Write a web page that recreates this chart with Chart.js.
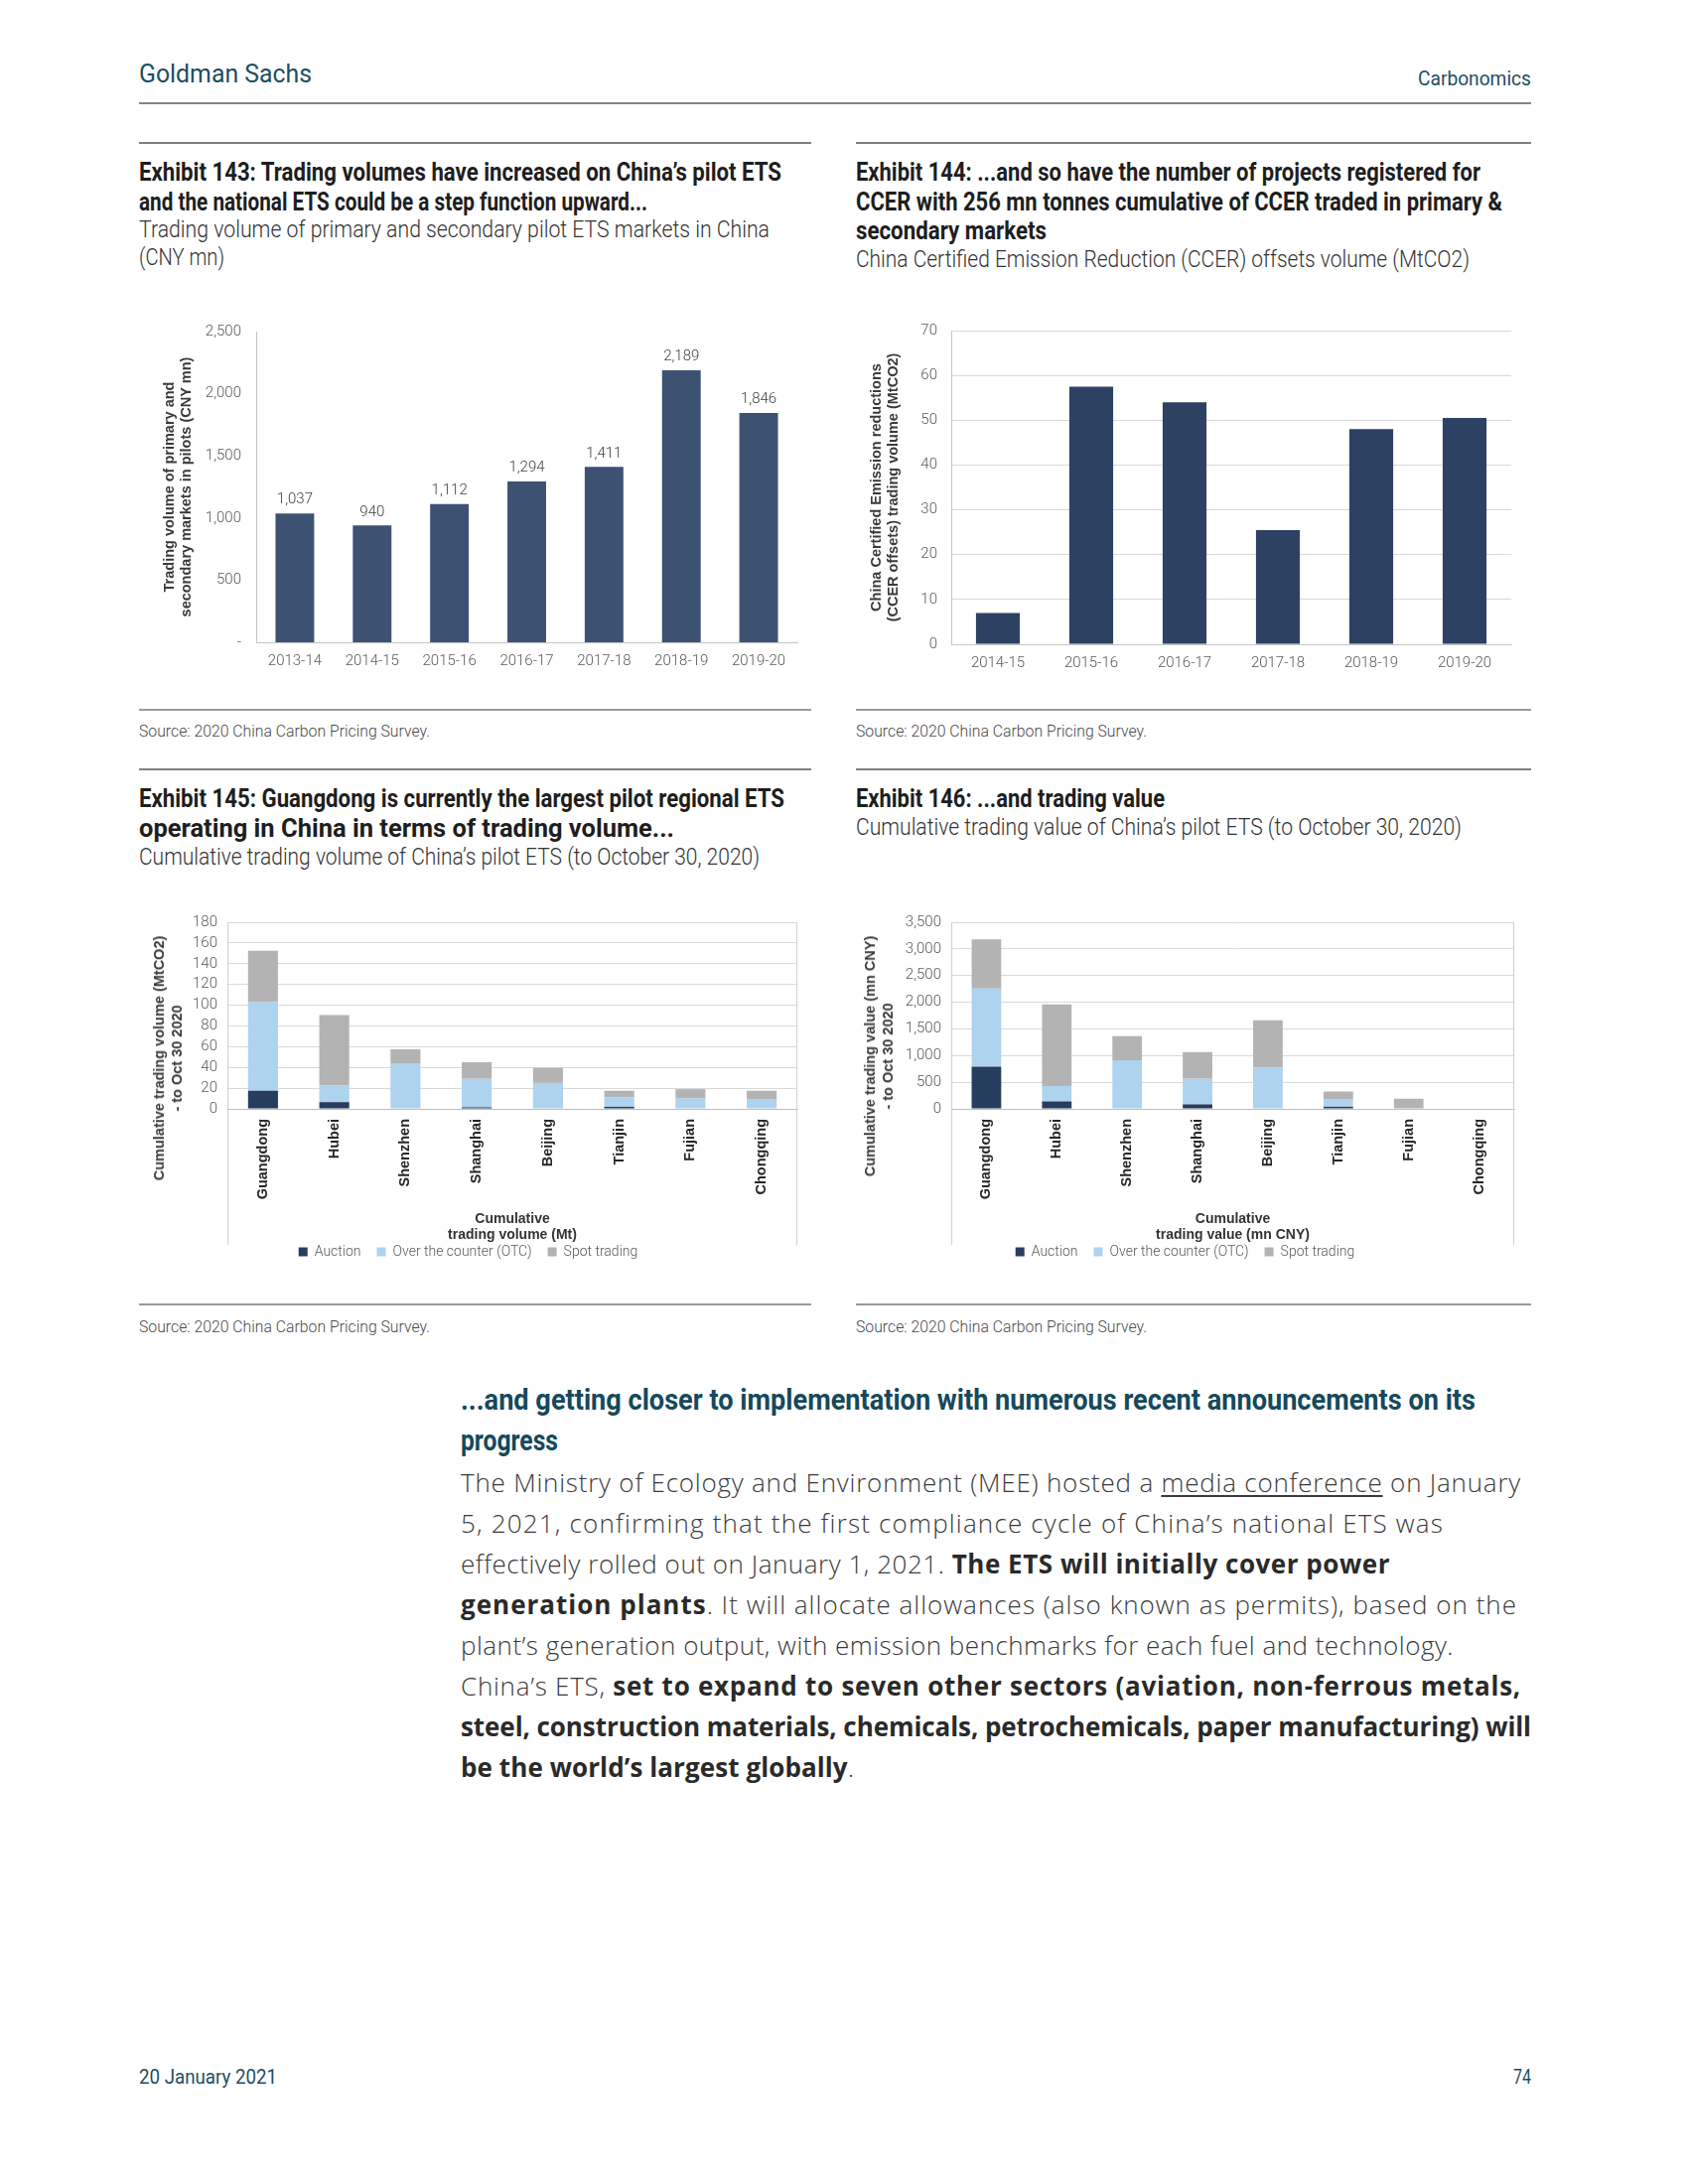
<!DOCTYPE html>
<html><head><meta charset="utf-8">
<script src="https://cdn.jsdelivr.net/npm/chart.js@4.4.1/dist/chart.umd.min.js"></script>
<style>
html,body{margin:0;padding:0;background:#fff;}
#page{position:relative;width:1700px;height:2200px;background:#fff;overflow:hidden;font-family:Roboto,"Liberation Sans",sans-serif;}
.rule{position:absolute;}
.t{position:absolute;white-space:nowrap;}
.sx,.fit{display:inline-block;white-space:nowrap;transform-origin:0 50%;}
.extitle{font-weight:bold;font-size:25px;line-height:30px;color:#1e1e1e;}
.exsub{font-size:23px;line-height:28px;color:#333;font-weight:300;}
.src{font-size:17px;line-height:20px;color:#4a4a4a;font-weight:300;}
canvas{position:absolute;}
.ytitle{position:absolute;transform:translate(-50%,-50%) rotate(-90deg);font-family:"Liberation Sans","DejaVu Sans",sans-serif;font-weight:bold;font-size:14.5px;line-height:18px;color:#3a3a3a;text-align:center;white-space:nowrap;}
.head{font-family:Roboto,sans-serif;font-weight:bold;font-size:30px;line-height:41px;color:#15495c;}
.body{font-family:"Open Sans","Lato",sans-serif;font-size:26px;line-height:41px;color:#3a3a3a;font-weight:300;}
.body b{color:#2a2a2a;font-weight:700;}
.body u{text-decoration:underline;text-underline-offset:3px;}
.hdr{color:#1f4e5f;font-weight:400;}
</style></head>
<body><div id="page">
<div class="t hdr" style="left:140px;top:59px;font-size:26px;line-height:30px;"><span class="sx" data-w="174">Goldman Sachs</span></div>
<div class="t hdr" style="left:1428px;top:67px;font-size:21px;line-height:24px;"><span class="sx" data-w="114">Carbonomics</span></div>
<div class="rule" style="left:140px;top:103px;width:1402px;height:2px;background:#858585;"></div>

<!-- Exhibit 143 -->
<div class="rule" style="left:140px;top:143px;width:677px;height:2px;background:#7f7f7f;"></div>
<div class="t extitle" style="left:140px;top:159px;"><span class="sx" data-w="647">Exhibit 143: Trading volumes have increased on China’s pilot ETS</span><br><span class="sx" data-w="512">and the national ETS could be a step function upward...</span></div>
<div class="t exsub" style="left:140px;top:218px;"><span class="sx" data-w="635">Trading volume of primary and secondary pilot ETS markets in China</span><br><span class="sx" data-w="86">(CNY mn)</span></div>
<canvas id="c143" width="680" height="380" style="left:140px;top:310px;"></canvas>
<div class="rule" style="left:140px;top:714px;width:677px;height:1.5px;background:#9a9a9a;"></div>
<div class="t src" style="left:140px;top:726px;"><span class="sx" data-w="293">Source: 2020 China Carbon Pricing Survey.</span></div>

<!-- Exhibit 144 -->
<div class="rule" style="left:862px;top:143px;width:680px;height:2px;background:#7f7f7f;"></div>
<div class="t extitle" style="left:862px;top:159px;line-height:29.5px;"><span class="sx" data-w="629">Exhibit 144: ...and so have the number of projects registered for</span><br><span class="sx" data-w="651">CCER with 256 mn tonnes cumulative of CCER traded in primary &amp;</span><br><span class="sx" data-w="192">secondary markets</span></div>
<div class="t exsub" style="left:862px;top:248px;"><span class="sx" data-w="618">China Certified Emission Reduction (CCER) offsets volume (MtCO2)</span></div>
<canvas id="c144" width="680" height="380" style="left:862px;top:310px;"></canvas>
<div class="rule" style="left:862px;top:714px;width:680px;height:1.5px;background:#9a9a9a;"></div>
<div class="t src" style="left:862px;top:726px;"><span class="sx" data-w="293">Source: 2020 China Carbon Pricing Survey.</span></div>

<!-- Exhibit 145 -->
<div class="rule" style="left:140px;top:774px;width:677px;height:2px;background:#7f7f7f;"></div>
<div class="t extitle" style="left:140px;top:790px;"><span class="sx" data-w="650">Exhibit 145: Guangdong is currently the largest pilot regional ETS</span><br><span class="sx" data-w="539">operating in China in terms of trading volume...</span></div>
<div class="t exsub" style="left:140px;top:850px;"><span class="sx" data-w="625">Cumulative trading volume of China’s pilot ETS (to October 30, 2020)</span></div>
<canvas id="c145" width="680" height="373" style="left:140px;top:905px;"></canvas>
<div class="ytitle" style="left:169px;top:1066px;">Cumulative trading volume (MtCO2)<br>- to Oct 30 2020</div>
<div class="rule" style="left:140px;top:1313px;width:677px;height:1.5px;background:#9a9a9a;"></div>
<div class="t src" style="left:140px;top:1326px;"><span class="sx" data-w="293">Source: 2020 China Carbon Pricing Survey.</span></div>

<!-- Exhibit 146 -->
<div class="rule" style="left:862px;top:774px;width:680px;height:2px;background:#7f7f7f;"></div>
<div class="t extitle" style="left:862px;top:790px;"><span class="sx" data-w="311">Exhibit 146: ...and trading value</span></div>
<div class="t exsub" style="left:862px;top:820px;"><span class="sx" data-w="610">Cumulative trading value of China’s pilot ETS (to October 30, 2020)</span></div>
<canvas id="c146" width="680" height="373" style="left:862px;top:905px;"></canvas>
<div class="ytitle" style="left:885px;top:1064px;">Cumulative trading value (mn CNY)<br>- to Oct 30 2020</div>
<div class="rule" style="left:862px;top:1313px;width:680px;height:1.5px;background:#9a9a9a;"></div>
<div class="t src" style="left:862px;top:1326px;"><span class="sx" data-w="293">Source: 2020 China Carbon Pricing Survey.</span></div>

<!-- Text section -->
<div class="t head" style="left:464px;top:1389px;"><span class="sx" data-w="1022">...and getting closer to implementation with numerous recent announcements on its</span><br><span class="sx" data-w="98">progress</span></div>
<div class="t body" style="left:464px;top:1473px;">
<span class="fit" data-w="1068">The Ministry of Ecology and Environment (MEE) hosted a <u>media conference</u> on January</span><br>
<span class="fit" data-w="990">5, 2021, confirming that the first compliance cycle of China’s national ETS was</span><br>
<span class="fit" data-w="936">effectively rolled out on January 1, 2021. <b>The ETS will initially cover power</b></span><br>
<span class="fit" data-w="1064"><b>generation plants</b>. It will allocate allowances (also known as permits), based on the</span><br>
<span class="fit" data-w="1000">plant’s generation output, with emission benchmarks for each fuel and technology.</span><br>
<span class="fit" data-w="1068">China’s ETS, <b>set to expand to seven other sectors (aviation, non-ferrous metals,</b></span><br>
<span class="fit" data-w="1078"><b>steel, construction materials, chemicals, petrochemicals, paper manufacturing) will</b></span><br>
<span class="fit" data-w="396"><b>be the world’s largest globally</b>.</span>
</div>

<div class="t hdr" style="left:140px;top:2080px;font-size:20px;line-height:24px;"><span class="sx" data-w="139">20 January 2021</span></div>
<div class="t hdr" style="left:1524px;top:2080px;font-size:20px;line-height:24px;"><span class="sx" data-w="18">74</span></div>
</div>

<script>
// ---------- Data ----------
const cats143 = ['2013-14','2014-15','2015-16','2016-17','2017-18','2018-19','2019-20'];
const vals143 = [1037, 940, 1112, 1294, 1411, 2189, 1846];

const cats144 = ['2014-15','2015-16','2016-17','2017-18','2018-19','2019-20'];
const vals144 = [7, 57.5, 54, 25.5, 48, 50.5];

const regions = ['Guangdong','Hubei','Shenzhen','Shanghai','Beijing','Tianjin','Fujian','Chongqing'];
const seriesNames = ['Auction','Over the counter (OTC)','Spot trading'];
const volAuction = [17.5, 6.5, 0, 1.5, 0, 2, 0, 0];
const volOTC     = [85.5, 16, 44, 27.5, 25, 9, 10, 9];
const volSpot    = [49.5, 68, 13.5, 16, 14.5, 6.5, 9, 8.5];

const valAuction = [790, 140, 0, 85, 0, 40, 0, 0];
const valOTC     = [1465, 290, 910, 480, 775, 145, 0, 0];
const valSpot    = [925, 1530, 455, 500, 885, 140, 190, 0];

const ticks143 = [0, 500, 1000, 1500, 2000, 2500];

// ---------- Styling ----------
const FN = 'Roboto,"Liberation Sans",sans-serif';
const FB = '"Liberation Sans","DejaVu Sans",sans-serif';
Chart.defaults.font.family = FN;
Chart.defaults.font.weight = '300';
Chart.defaults.color = '#595959';
Chart.defaults.animation = false;
const C_AUC = '#273d5e', C_OTC = '#add3ee', C_SPOT = '#b3b3b3';
const fmt = v => Number(v).toLocaleString('en-US');

const valueLabels = {
  id: 'valueLabels',
  afterDatasetsDraw(chart) {
    const ctx = chart.ctx, meta = chart.getDatasetMeta(0), ds = chart.data.datasets[0];
    ctx.save();
    ctx.font = '300 15px ' + FN; ctx.fillStyle = '#404040';
    ctx.textAlign = 'center'; ctx.textBaseline = 'bottom';
    meta.data.forEach((bar, i) => ctx.fillText(fmt(ds.data[i]), bar.x, bar.y - 6));
    ctx.restore();
  }
};
const frame = {
  id: 'frame',
  afterDraw(chart) {
    const {ctx, chartArea: a} = chart;
    const yb = chart.legend.top + 16;
    ctx.save(); ctx.strokeStyle = '#d4d4d4'; ctx.lineWidth = 1.2;
    ctx.beginPath();
    ctx.moveTo(Math.round(a.left) + 0.5, a.top); ctx.lineTo(Math.round(a.left) + 0.5, yb);
    ctx.moveTo(Math.round(a.right) - 0.5, a.top); ctx.lineTo(Math.round(a.right) - 0.5, yb);
    ctx.stroke(); ctx.restore();
  }
};

// ---------- Exhibit 143 ----------
new Chart(document.getElementById('c143'), {
  type: 'bar',
  data: { labels: cats143, datasets: [{ data: vals143, backgroundColor: '#3d5272', barPercentage: 0.5, categoryPercentage: 1 }] },
  options: {
    responsive: false, animation: false,
    layout: { padding: { top: 19, right: 17, left: 0, bottom: 0 } },
    plugins: { legend: { display: false }, tooltip: { enabled: false } },
    scales: {
      x: { grid: { display: false, drawTicks: false }, border: { display: true, color: '#c4c4c4' },
           ticks: { font: { size: 15 }, color: '#595959', padding: 10 },
           afterFit: s => { s.height = 43; } },
      y: { min: 0, max: 2500, afterBuildTicks: s => { s.ticks = ticks143.map(v => ({ value: v })); },
           grid: { display: false, drawTicks: false }, border: { display: true, color: '#c4c4c4' },
           ticks: { font: { size: 15 }, color: '#595959', padding: 15, autoSkip: false, callback: v => v === 0 ? '-' : fmt(v) },
           title: { display: true, text: ['Trading volume of primary and', 'secondary markets in pilots (CNY mn)'],
                    font: { family: FB, weight: 'bold', size: 14.5, lineHeight: 1.2 }, color: '#3a3a3a', padding: { top: 22, bottom: 0 } },
           afterFit: s => { s.width = 118; } }
    }
  },
  plugins: [valueLabels]
});

// ---------- Exhibit 144 ----------
new Chart(document.getElementById('c144'), {
  type: 'bar',
  data: { labels: cats144, datasets: [{ data: vals144, backgroundColor: '#2d4263', barPercentage: 0.47, categoryPercentage: 1 }] },
  options: {
    responsive: false, animation: false,
    layout: { padding: { top: 18, right: 20, left: 0, bottom: 0 } },
    plugins: { legend: { display: false }, tooltip: { enabled: false } },
    scales: {
      x: { grid: { display: false, drawTicks: false }, border: { display: true, color: '#c4c4c4' },
           ticks: { font: { size: 15 }, color: '#595959', padding: 10 },
           afterFit: s => { s.height = 41; } },
      y: { min: 0, max: 70, ticks: { stepSize: 10, autoSkip: false, font: { size: 15 }, color: '#595959', padding: 14 },
           grid: { color: '#d9d9d9', drawTicks: false }, border: { display: true, color: '#c4c4c4' },
           title: { display: true, text: ['China Certified Emission reductions', '(CCER offsets) trading volume (MtCO2)'],
                    font: { family: FB, weight: 'bold', size: 14.5, lineHeight: 1.2 }, color: '#3a3a3a', padding: { top: 12, bottom: 0 } },
           afterFit: s => { s.width = 96; } }
    }
  }
});

// ---------- Stacked charts ----------
function stacked(id, a, o, s, yMax, yStep, yLeft, xTitle, tickFmt) {
  return new Chart(document.getElementById(id), {
    type: 'bar',
    data: { labels: regions, datasets: [
      { label: seriesNames[0], data: a, backgroundColor: C_AUC, borderWidth: 0 },
      { label: seriesNames[1], data: o, backgroundColor: C_OTC, borderWidth: 0 },
      { label: seriesNames[2], data: s, backgroundColor: C_SPOT, borderWidth: 0 }
    ] },
    options: {
      responsive: false, animation: false,
      datasets: { bar: { barPercentage: 0.42, categoryPercentage: 1 } },
      layout: { padding: { top: 24, right: 17, left: 0, bottom: 0 } },
      plugins: {
        tooltip: { enabled: false },
        legend: { position: 'bottom', labels: { boxWidth: 9, boxHeight: 9, padding: 16, font: { size: 14 }, color: '#595959' } }
      },
      scales: {
        x: { stacked: true, grid: { display: false, drawTicks: false }, border: { display: true, color: '#bdbdbd' },
             ticks: { autoSkip: false, minRotation: 90, maxRotation: 90, font: { family: FB, weight: 'bold', size: 14.5 }, color: '#262626', padding: 10 },
             title: { display: true, text: xTitle, font: { family: FB, weight: 'bold', size: 14, lineHeight: 1.2 }, color: '#333', padding: { top: 0, bottom: -15 } },
             afterFit: sc => { sc.height = 121; } },
        y: { stacked: true, min: 0, max: yMax, ticks: { stepSize: yStep, autoSkip: false, font: { size: 15 }, color: '#595959', padding: 10, callback: tickFmt },
             grid: { color: '#d9d9d9', drawTicks: false }, border: { display: false },
             afterFit: sc => { sc.width = yLeft; } }
      }
    },
    plugins: [frame]
  });
}
stacked('c145', volAuction, volOTC, volSpot, 180, 20, 89, ['Cumulative', 'trading volume (Mt)'], v => v);
stacked('c146', valAuction, valOTC, valSpot, 3500, 500, 96, ['Cumulative', 'trading value (mn CNY)'], v => fmt(v));

// ---------- fit text line widths ----------
function fitLines() {
  document.querySelectorAll('.fit[data-w]').forEach(el => {
    el.style.letterSpacing = '0px';
    const target = parseFloat(el.dataset.w);
    const w = el.getBoundingClientRect().width;
    const n = el.textContent.length;
    if (n > 1) el.style.letterSpacing = ((target - w) / n) + 'px';
  });
  document.querySelectorAll('.sx[data-w]').forEach(el => {
    el.style.transform = 'none';
    const target = parseFloat(el.dataset.w);
    const w = el.getBoundingClientRect().width;
    if (w > 0) el.style.transform = 'scaleX(' + (target / w) + ')';
  });
}
fitLines();
if (document.fonts && document.fonts.ready) document.fonts.ready.then(fitLines);
</script>
</body></html>
